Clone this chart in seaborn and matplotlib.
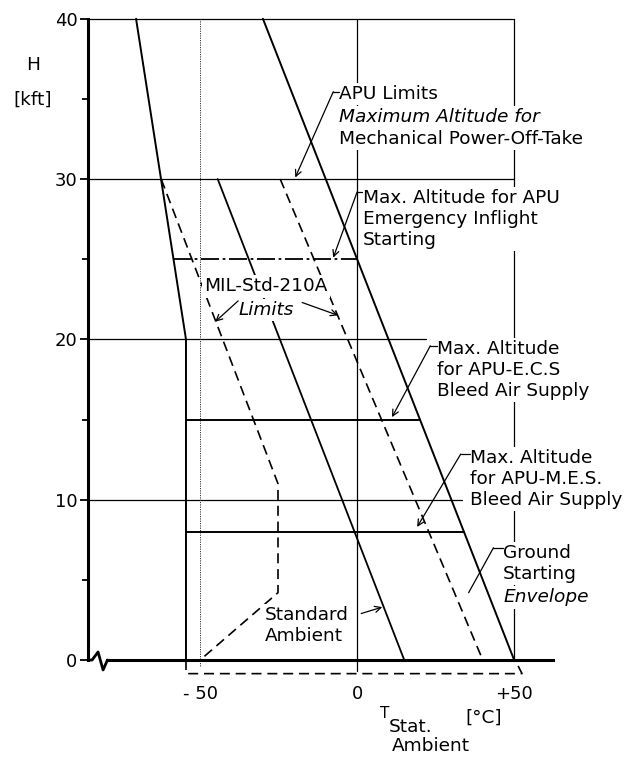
import numpy as np
import pandas as pd
import matplotlib
matplotlib.use("Agg")
import matplotlib.pyplot as plt
import seaborn as sns

# ---------------- data (temperature degC, altitude kft) ----------------
env_left_T = [-70.4, -54.5, -54.5]
env_left_H = [40, 20, 0]
env_right_T = [-30, 50]
env_right_H = [40, 0]
env_15_T = [-54.5, 20]
env_15_H = [15, 15]
env_8_T = [-54.5, 34]
env_8_H = [8, 8]
emerg_25_T = [-58.5, 0]
emerg_25_H = [25, 25]
std_T = [-44.4, 15]
std_H = [30, 0]
mil_hot_T = [-24.5, 40]
mil_hot_H = [30, 0]
mil_cold_T = [-62.4, -25.2, -25.2, -50]
mil_cold_H = [30, 11, 4.2, 0]
ground_box_T = [-54.5, -54.5, 52.5, 50.3]
ground_box_H = [0, -0.85, -0.85, 0]

grid_H = [40, 30, 20, 10]
grid_T_end = [50, 50, 22, 33.5]
vert_T = [0, 50]
vert_H_start = [-0.7, 0]
dotted_T = -50

x_ticks = [-50, 0, 50]
x_tick_labels = ["- 50", "0", "+50"]
y_major = [0, 10, 20, 30, 40]
y_minor = [5, 15, 25, 35]

T_MIN, T_MAX = -85.7, 87.2
H_MIN, H_MAX = -6.05, 41.17
AXIS_T_END = 62.4
break_T = [-85.7, -84.4, -82.5, -80.9, -79.5]
break_H = [0, 0, 0.5, -0.62, 0]

# ---------------- figure ----------------
sns.set_theme(style="white")
plt.rcParams["font.family"] = ["DejaVu Sans"]
plt.rcParams["text.color"] = "black"
plt.rcParams["xtick.color"] = "black"
plt.rcParams["ytick.color"] = "black"
plt.rcParams["xtick.labelcolor"] = "black"
plt.rcParams["ytick.labelcolor"] = "black"
fig = plt.figure(figsize=(6.31, 7.57), dpi=100)
ax = fig.add_axes([88 / 631, 0, (631 - 88) / 631, 1])
ax.set_xlim(T_MIN, T_MAX)
ax.set_ylim(H_MIN, H_MAX)
ax.set_facecolor("white")

def line(T, H, lw=1.2, ls="-", color="black", z=2):
    sns.lineplot(x=T, y=H, sort=False, estimator=None, ax=ax, color=color,
                 linewidth=lw, linestyle=ls, zorder=z, legend=False)

# grid
for h, te in zip(grid_H, grid_T_end):
    line([T_MIN, te], [h, h], lw=0.9)
for t, h0 in zip(vert_T, vert_H_start):
    line([t, t], [h0, 40], lw=0.9)
line([dotted_T, dotted_T], [-0.4, 40], lw=0.7, ls=(0, (1.2, 1.2)), color="#333333")

# envelope
line(env_left_T, env_left_H, lw=1.4)
line(env_right_T, env_right_H, lw=1.4)
line(env_15_T, env_15_H, lw=1.4)
line(env_8_T, env_8_H, lw=1.4)
line(emerg_25_T, emerg_25_H, lw=1.3, ls=(0, (10, 2, 1.5, 2)))
line(std_T, std_H, lw=1.3)
line(mil_hot_T, mil_hot_H, lw=1.2, ls=(0, (6, 3.5)))
line(mil_cold_T, mil_cold_H, lw=1.2, ls=(0, (6, 3.5)))
line(ground_box_T, ground_box_H, lw=1.2, ls=(0, (6, 3.5)))

# axes
line(break_T, break_H, lw=2.0)
for s in ["top", "right"]:
    ax.spines[s].set_visible(False)
ax.spines["left"].set_position(("data", T_MIN))
ax.spines["left"].set_bounds(0, 40)
ax.spines["left"].set_linewidth(2.2)
ax.spines["left"].set_color("black")
ax.spines["bottom"].set_position(("data", 0))
ax.spines["bottom"].set_bounds(-79.5, AXIS_T_END)
ax.spines["bottom"].set_linewidth(2.2)
ax.spines["bottom"].set_color("black")
ax.spines["bottom"].set_zorder(3)

ax.set_yticks(y_major, [str(v) for v in y_major])
ax.set_yticks(y_minor, minor=True)
ax.set_xticks(x_ticks, x_tick_labels)
ax.tick_params(axis="y", which="major", direction="out", length=5.5, width=1.3,
               pad=2, labelsize=13, left=True, colors="black")
ax.tick_params(axis="y", which="minor", direction="out", length=4, width=1.3, left=True,
               colors="black")
ax.tick_params(axis="x", which="major", direction="out", length=0, pad=18,
               labelsize=13, bottom=True, colors="black")
ax.set_xlabel("")
ax.set_ylabel("")

FS = 13.3
bb = dict(facecolor="white", edgecolor="none", pad=1.5)

def txt(x, y, s, style="normal", ha="left", fs=FS, box=True):
    ax.text(x, y, s, ha=ha, va="center", fontsize=fs, style=style, color="black",
            bbox=bb if box else None, zorder=5, linespacing=1.22)

def leader(hook, start, tip, arrow=True):
    ax.plot([hook[0], start[0]], [hook[1], start[1]], color="black", lw=0.9, zorder=6)
    ax.annotate("", xy=tip, xytext=start,
                arrowprops=dict(arrowstyle="->" if arrow else "-", lw=0.9, color="black",
                                shrinkA=0, shrinkB=0, mutation_scale=11), zorder=6)

def arrow(tip, start):
    ax.annotate("", xy=tip, xytext=start,
                arrowprops=dict(arrowstyle="->", lw=0.9, color="black", shrinkA=0,
                                shrinkB=0, mutation_scale=11), zorder=6)

# APU limits block
txt(-5.7, 35.3, "APU Limits")
txt(-5.7, 33.9, "Maximum Altitude for", style="italic")
txt(-5.7, 32.5, "Mechanical Power-Off-Take")
leader((-5.9, 35.45), (-7.6, 35.45), (-19.7, 30.1))

# Emergency inflight starting
txt(1.9, 27.5, "Max. Altitude for APU\nEmergency Inflight\nStarting")
leader((1.7, 29.2), (0.0, 29.2), (-7.6, 25.1))

# ECS
txt(25.5, 18.1, "Max. Altitude\nfor APU-E.C.S\nBleed Air Supply")
leader((25.3, 19.6), (23.3, 19.6), (11.1, 15.15))

# MES
txt(36.0, 11.3, "Max. Altitude\nfor APU-M.E.S.\nBleed Air Supply")
leader((35.8, 12.85), (33.0, 12.85), (19.1, 8.3))

# Ground starting envelope
txt(46.5, 6.0, "Ground\nStarting")
txt(46.5, 3.9, "Envelope", style="italic")
leader((46.3, 7.0), (43.4, 7.0), (35.5, 4.2), arrow=False)

# MIL-Std-210A
txt(-29.0, 23.3, "MIL-Std-210A", ha="center")
txt(-29.0, 21.85, "Limits", ha="center", style="italic")
arrow((-45.2, 21.1), (-37.9, 22.4))
arrow((-6.1, 21.5), (-17.5, 22.3))

# Standard ambient
txt(-29.3, 2.15, "Standard\nAmbient")
arrow((8.0, 3.3), (1.3, 2.9))

# axis titles
fig.text(33 / 631, 1 - 65 / 757, "H", ha="center", va="center", fontsize=FS, color="black")
fig.text(33 / 631, 1 - 100 / 757, "[kft]", ha="center", va="center", fontsize=FS, color="black")
fig.text(385 / 631, 1 - 714 / 757, "T", ha="center", va="center", fontsize=11, color="black")
fig.text(411 / 631, 1 - 727 / 757, "Stat.", ha="center", va="center", fontsize=FS, color="black")
fig.text(431 / 631, 1 - 746 / 757, "Ambient", ha="center", va="center", fontsize=FS, color="black")
fig.text(484 / 631, 1 - 718 / 757, "[°C]", ha="center", va="center", fontsize=FS, color="black")

fig.savefig("out.png", dpi=100, facecolor="white")
